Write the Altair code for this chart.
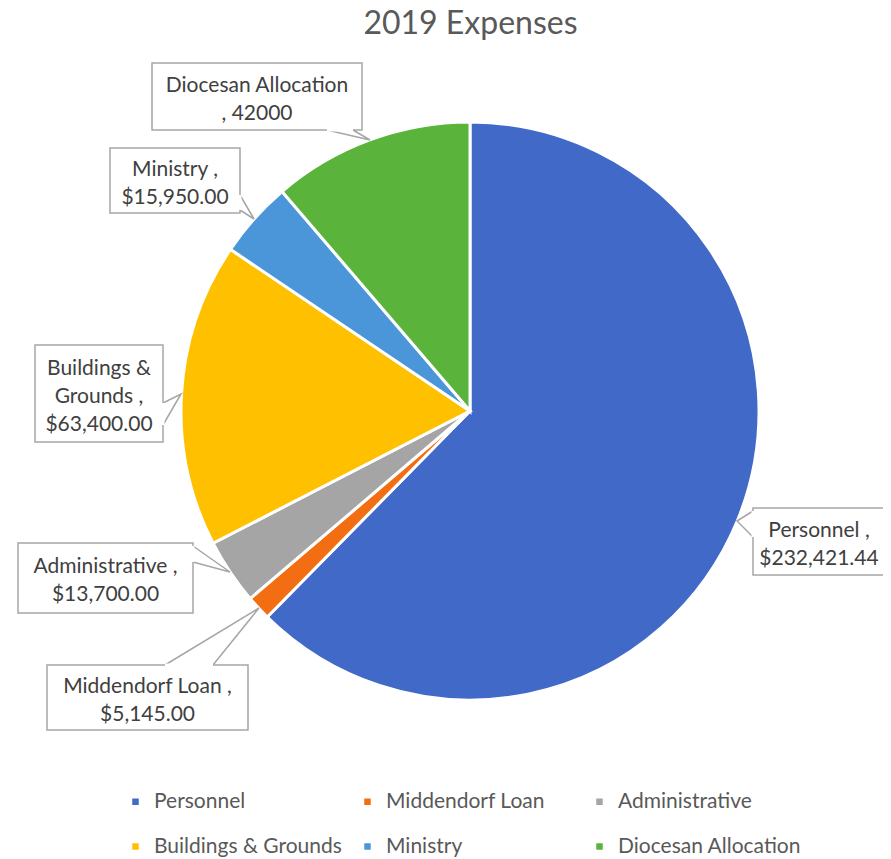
import altair as alt
import pandas as pd

# ---- data ----
categories = ["Personnel", "Middendorf Loan", "Administrative",
              "Buildings & Grounds", "Ministry", "Diocesan Allocation"]
values = [232421.44, 5145.00, 13700.00, 63400.00, 15950.00, 42000.00]
label_texts = ["Personnel ,\n$232,421.44",
               "Middendorf Loan ,\n$5,145.00",
               "Administrative ,\n$13,700.00",
               "Buildings &\nGrounds ,\n$63,400.00",
               "Ministry ,\n$15,950.00",
               "Diocesan Allocation\n, 42000"]
colors = ["#4169C8", "#F36E12", "#A5A5A5", "#FFC000", "#4A96D9", "#5AB33B"]

# ---- layout (page pixel positions of the callout boxes) ----
OX, OY = 8, 58          # plot origin on the page
CX, CY, R = 470, 411, 289
box_x1 = [753, 47, 18, 35, 110, 152]
box_x2 = [885, 248, 193, 163, 240, 362]
box_y1 = [508, 665, 543, 345, 148, 63]
box_y2 = [575, 730, 613, 442, 213, 130]
ptr_base1 = [(753, 511), (165, 665), (193, 546), (163, 403), (240, 195), (327, 130)]
ptr_tip = [(737, 521), (259, 608), (230, 572), (181, 394), (254, 219), (370, 140)]
ptr_base2 = [(753, 537), (213, 665), (193, 562), (163, 425), (240, 210), (353, 130)]

FONT = "Lato"
TXT = "#404040"
LH = 28

pie_df = pd.DataFrame({"category": categories, "value": values,
                       "idx": list(range(len(categories)))})

box_df = pd.DataFrame({
    "label": label_texts,
    "x1": [v - OX for v in box_x1], "x2": [v - OX for v in box_x2],
    "y1": [v - OY for v in box_y1], "y2": [v - OY for v in box_y2],
})
box_df["lines"] = box_df.label.str.split("\n")
box_df["n"] = box_df.lines.str.len()
box_df["xc"] = (box_df.x1 + box_df.x2) / 2
box_df["yc"] = (box_df.y1 + box_df.y2) / 2 - (box_df.n - 1) * LH / 2 + 3

rows = []
for i, (b1, t, b2) in enumerate(zip(ptr_base1, ptr_tip, ptr_base2)):
    for k, p in enumerate([b1, t, b2]):
        rows.append({"id": i, "k": k, "px": p[0] - OX, "py": p[1] - OY})
ptr_df = pd.DataFrame(rows)
base_df = pd.DataFrame({
    "x": [b[0] - OX for b in ptr_base1], "y": [b[1] - OY for b in ptr_base1],
    "x2": [b[0] - OX for b in ptr_base2], "y2": [b[1] - OY for b in ptr_base2],
})

pie = alt.Chart(pie_df).mark_arc(radius=R, stroke="white", strokeWidth=3).encode(
    theta=alt.Theta("value:Q", stack=True),
    order=alt.Order("idx:Q"),
    color=alt.Color("category:N",
                    scale=alt.Scale(domain=categories, range=colors),
                    sort=categories,
                    legend=alt.Legend(
                        title=None, orient="none", legendX=117, legendY=733,
                        direction="horizontal",
                        columns=3, gridAlign="all", columnPadding=15,
                        rowPadding=23, symbolType="square", symbolSize=42,
                        symbolStrokeWidth=0, labelFont=FONT, labelFontSize=21,
                        labelColor="#595959", labelOffset=8, labelLimit=400,
                        padding=0)),
    x=alt.value(CX - OX), y=alt.value(CY - OY),
)

boxes = alt.Chart(box_df).mark_rect(fill="white", stroke="#A6A6A6", strokeWidth=1.5).encode(
    x=alt.X("x1:Q", scale=None), x2="x2:Q",
    y=alt.Y("y1:Q", scale=None), y2="y2:Q",
)

erase = alt.Chart(base_df).mark_rule(color="white", strokeWidth=3).encode(
    x=alt.X("x:Q", scale=None), x2="x2:Q",
    y=alt.Y("y:Q", scale=None), y2="y2:Q",
)

ptrs = alt.Chart(ptr_df).mark_line(color="#A6A6A6", strokeWidth=1.5).encode(
    x=alt.X("px:Q", scale=None), y=alt.Y("py:Q", scale=None),
    detail="id:N", order="k:Q",
)

texts = alt.Chart(box_df).mark_text(font=FONT, fontSize=21, color=TXT,
                                    align="center", baseline="middle",
                                    lineHeight=LH).encode(
    x=alt.X("xc:Q", scale=None), y=alt.Y("yc:Q", scale=None),
    text="lines",
)

chart = alt.layer(pie, ptrs, boxes, erase, texts).properties(
    width=875, height=800,
    title=alt.Title("2019 Expenses", font=FONT, fontSize=32, fontWeight="normal",
                    color="#595959", anchor="middle", dx=25, offset=17),
    padding={"left": 0, "top": 50, "right": 0, "bottom": 0},
    autosize=alt.AutoSizeParams(type="none"),
).configure_view(stroke=None)

chart.save("out.html", embed_options={"renderer": "svg", "actions": False})
